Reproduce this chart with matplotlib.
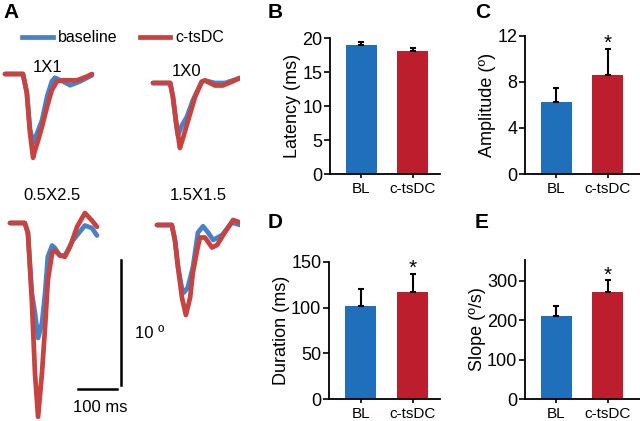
import numpy as np
import matplotlib
matplotlib.use("Agg")
import matplotlib.pyplot as plt

plt.rcParams['font.family'] = ['Liberation Sans', 'DejaVu Sans']

# ---- data -------------------------------------------------------------
GROUPS = ['BL', 'c-tsDC']
BAR_COLORS = ['#1f6fba', '#bd1e2d']
TRACE_BLUE = '#4a80c4'
TRACE_RED = '#c8423f'

latency_mean = [18.9, 18.1]
latency_err = [0.5, 0.4]
latency_sig = [False, False]
amplitude_mean = [6.3, 8.6]
amplitude_err = [1.2, 2.3]
amplitude_sig = [False, True]
duration_mean = [102, 117]
duration_err = [18, 20]
duration_sig = [False, True]
slope_mean = [211, 272]
slope_err = [24, 29]
slope_sig = [False, True]

# example traces: time (ms from start) and eye position (deg from baseline)
t_1x1_bl = [0, 46, 56, 64, 72, 79, 95, 108, 120, 128, 149, 167, 192, 223]
y_1x1_bl = [0, 0, -1.5, -4.4, -5.5, -5.0, -3.7, -1.8, -0.6, -0.3, -0.6, -0.9, -0.6, -0.1]
t_1x1_dc = [0, 46, 56, 64, 72, 77, 85, 95, 108, 120, 133, 149, 185, 210, 223]
y_1x1_dc = [0, 0, -1.5, -4.7, -6.7, -6.1, -5.3, -4.2, -2.6, -1.3, -0.6, -0.5, -0.5, -0.2, 0]

t_1x0_bl = [0, 44, 51, 59, 64, 74, 87, 102, 125, 133, 159, 185, 223]
y_1x0_bl = [0, 0, -1.1, -3.2, -4.2, -3.4, -2.7, -1.4, 0.1, 0.2, 0, 0, 0.4]
t_1x0_dc = [0, 44, 51, 61, 69, 77, 90, 108, 125, 133, 159, 179, 202, 223]
y_1x0_dc = [0, 0, -1.1, -3.5, -5.2, -4.4, -3.0, -1.1, 0.1, 0.2, -0.2, -0.2, 0.1, 0.4]

t_05x25_bl = [0, 38, 46, 56, 64, 72, 82, 90, 97, 108, 115, 128, 141, 161, 192, 210, 223]
y_05x25_bl = [0, 0, -0.8, -5.6, -7.2, -9.2, -8.0, -5.6, -2.7, -1.8, -2.0, -2.6, -2.6, -1.4, -0.2, -0.4, -1.0]
t_05x25_dc = [0, 38, 46, 56, 64, 72, 82, 90, 97, 108, 115, 128, 141, 154, 172, 192, 210, 223]
y_05x25_dc = [0, 0, -0.8, -6.2, -12.0, -15.5, -12.0, -8.3, -4.6, -2.4, -2.2, -2.6, -2.7, -1.9, -0.3, 0.8, 0.2, -0.3]

t_15x15_bl = [0, 38, 46, 54, 64, 69, 79, 92, 105, 118, 131, 144, 167, 192, 213]
y_15x15_bl = [0, 0, -1.2, -3.4, -5.1, -5.4, -5.0, -3.4, -0.6, -0.1, -0.6, -1.2, -0.8, 0.2, 0]
t_15x15_dc = [0, 38, 46, 54, 64, 74, 85, 92, 103, 110, 123, 141, 154, 174, 195, 213]
y_15x15_dc = [0, 0, -1.2, -3.4, -5.8, -7.2, -5.8, -3.8, -2.0, -1.0, -1.0, -1.8, -1.6, -0.6, 0.4, 0.2]

trace_titles = ['1X1', '1X0', '0.5X2.5', '1.5X1.5']
SCALE_MS = 100
SCALE_DEG = 10

# ---- layout (pixels of the 640x421 figure) ----------------------------
W, H = 640, 421
MS_PER_PX = 100 / 39
DEG_PER_PX = 10 / 125
TRACE_ORIGINS = [(5, 74), (153, 83), (10, 223), (157, 225)]
TITLE_POS = [(48, 68), (187, 71), (52, 196), (198, 196)]


def px_to_data(x, y):
    return x * MS_PER_PX, -y * DEG_PER_PX


def fig_rect(left, top, right, bottom):
    return [left / W, (H - bottom) / H, (right - left) / W, (bottom - top) / H]


fig = plt.figure(figsize=(6.4, 4.21), dpi=100)

# ---- panel A ----------------------------------------------------------
axA = fig.add_axes([0, 0, 240 / W, 1])
axA.set_xlim(0, 240 * MS_PER_PX)
axA.set_ylim(-H * DEG_PER_PX, 0)
axA.axis('off')

traces = [
    (t_1x1_bl, y_1x1_bl, t_1x1_dc, y_1x1_dc),
    (t_1x0_bl, y_1x0_bl, t_1x0_dc, y_1x0_dc),
    (t_05x25_bl, y_05x25_bl, t_05x25_dc, y_05x25_dc),
    (t_15x15_bl, y_15x15_bl, t_15x15_dc, y_15x15_dc),
]
for (tb, yb, td, yd), origin, title, tpos in zip(traces, TRACE_ORIGINS, trace_titles, TITLE_POS):
    ox, oy = px_to_data(*origin)
    axA.plot(np.array(tb) + ox, np.array(yb) + oy, color=TRACE_BLUE, lw=3.4,
             solid_capstyle='round', solid_joinstyle='round')
    axA.plot(np.array(td) + ox, np.array(yd) + oy, color=TRACE_RED, lw=3.4,
             solid_capstyle='round', solid_joinstyle='round')
    tx, ty = px_to_data(*tpos)
    axA.text(tx, ty, title, ha='center', va='center', fontsize=12)

# legend
lx, ly = px_to_data(22, 37)
axA.plot([lx, lx + 31 * MS_PER_PX], [ly, ly], color=TRACE_BLUE, lw=3.4)
axA.text(lx + 36 * MS_PER_PX, ly, 'baseline', ha='left', va='center', fontsize=11.5)
lx2, _ = px_to_data(140, 37)
axA.plot([lx2, lx2 + 30 * MS_PER_PX], [ly, ly], color=TRACE_RED, lw=3.4)
axA.text(lx2 + 35 * MS_PER_PX, ly, 'c-tsDC', ha='left', va='center', fontsize=11.5)

# scale bars
sx, sy = px_to_data(121, 385)
axA.plot([sx, sx], [sy, sy + SCALE_DEG], color='black', lw=1.8)
hx, hy = px_to_data(117, 389)
axA.plot([hx - SCALE_MS, hx], [hy, hy], color='black', lw=1.8)
axA.text(*px_to_data(135, 333), '10 º', ha='left', va='center', fontsize=12)
axA.text(*px_to_data(100, 407), '100 ms', ha='center', va='center', fontsize=12)

fig.text(3 / W, 1 - 13 / H, 'A', fontsize=15, fontweight='bold', va='center', ha='left')


# ---- bar panels -------------------------------------------------------
def bar_panel(rect, means, errs, sig, ylim, yticks, ylabel, xlim):
    ax = fig.add_axes(rect)
    x = np.arange(1, len(GROUPS) + 1)
    ax.bar(x, means, width=0.6, color=BAR_COLORS)
    ax.errorbar(x, means, yerr=[np.zeros(len(errs)), errs], fmt='none',
                ecolor='black', elinewidth=1.5, capsize=2.5, capthick=1.5)
    for xi, m, e, s in zip(x, means, errs, sig):
        if s:
            ax.annotate('*', (xi, m + e), xytext=(0, -3), textcoords='offset points',
                        ha='center', va='bottom', fontsize=15)
    ax.set_xlim(*xlim)
    ax.set_ylim(*ylim)
    ax.set_yticks(yticks)
    ax.set_xticks(x)
    ax.set_xticklabels(GROUPS)
    ax.set_ylabel(ylabel, fontsize=13, labelpad=1)
    ax.tick_params(axis='y', labelsize=13, length=4, width=1.2, pad=1.5)
    ax.tick_params(axis='x', labelsize=11, length=3, width=1.2, pad=3)
    for side in ['top', 'right']:
        ax.spines[side].set_visible(False)
    for side in ['left', 'bottom']:
        ax.spines[side].set_linewidth(1.3)
    ax.patch.set_alpha(0)
    return ax


bar_panel(fig_rect(330, 38, 440, 174), latency_mean, latency_err, latency_sig, (0, 20),
          [0, 5, 10, 15, 20], 'Latency (ms)', (0.39, 2.53))
bar_panel(fig_rect(525, 36, 640, 174), amplitude_mean, amplitude_err, amplitude_sig, (0, 12),
          [0, 4, 8, 12], 'Amplitude (º)', (0.40, 2.62))
bar_panel(fig_rect(329, 262, 440, 399), duration_mean, duration_err, duration_sig, (0, 150),
          [0, 50, 100, 150], 'Duration (ms)', (0.39, 2.53))
bar_panel(fig_rect(525, 260, 640, 399), slope_mean, slope_err, slope_sig, (0, 353),
          [0, 100, 200, 300], 'Slope (º/s)', (0.40, 2.62))

for letter, (px, py) in zip('BCDE', [(268, 13), (475, 13), (268, 222), (475, 222)]):
    fig.text(px / W, 1 - py / H, letter, fontsize=15, fontweight='bold', va='center', ha='left')

fig.savefig('out.png', dpi=100)
